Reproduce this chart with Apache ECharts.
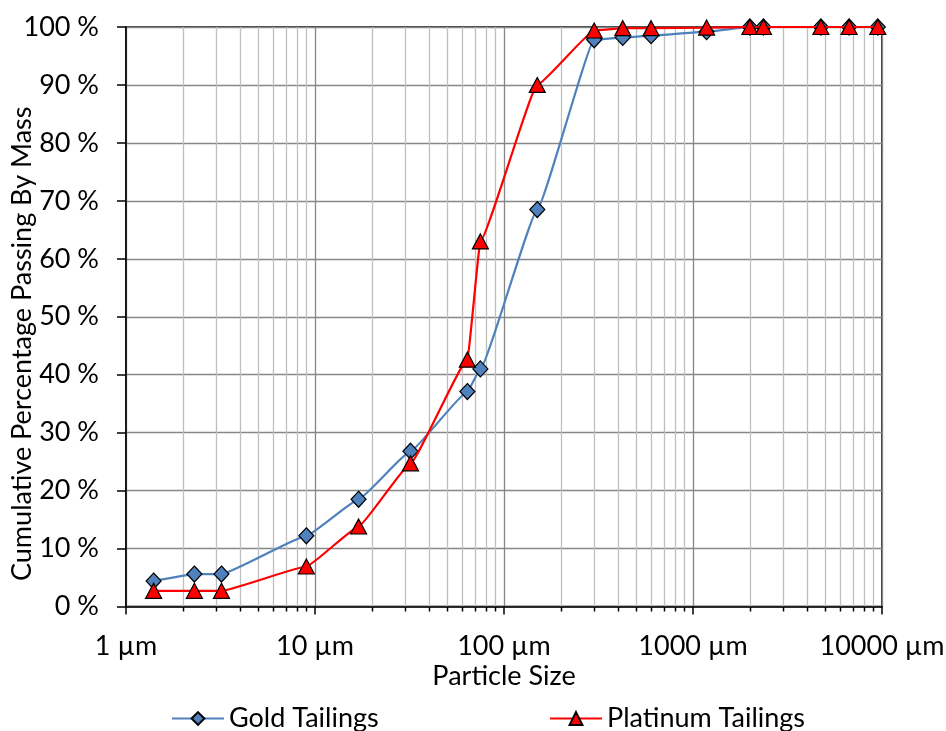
<!DOCTYPE html>
<html>
<head>
<meta charset="utf-8">
<script src="https://cdn.jsdelivr.net/npm/echarts@6/dist/echarts.min.js"></script>
<style>
html,body{margin:0;padding:0;background:#fff;}
#chart{width:946px;height:731px;}
</style>
</head>
<body>
<div id="chart"></div>
<script>
// Particle sizes (µm)
const sizes = [1.4, 2.3, 3.2, 9, 17, 32, 64, 75, 150, 300, 425, 600, 1180, 2000, 2360, 4750, 6700, 9500];
// Cumulative % passing
const goldTailings = [4.4, 5.6, 5.6, 12.2, 18.5, 26.8, 37.1, 41.0, 68.5, 97.8, 98.2, 98.5, 99.2, 100, 100, 100, 100, 100];
const platinumTailings = [2.7, 2.7, 2.7, 6.9, 13.8, 24.7, 42.6, 63.0, 90.0, 99.4, 99.8, 99.8, 99.9, 100, 100, 100, 100, 100];
// Minor log ticks / gridlines
const minorTicks = [2,3,4,5,6,7,8,9,20,30,40,50,60,70,80,90,200,300,400,500,600,700,800,900,2000,3000,4000,5000,6000,7000,8000,9000];
const seriesNames = ['Gold Tailings', 'Platinum Tailings'];

const FONT = 'Lato';
const FS = 27;

const chart = echarts.init(document.getElementById('chart'), null, {renderer: 'canvas'});

const option = {
  animation: false,
  backgroundColor: '#fff',
  grid: {left: 126, right: 64, top: 27, bottom: 124.5, containLabel: false, outerBoundsMode: 'none',
         show: true, borderColor: '#000', borderWidth: 1.5, backgroundColor: 'transparent'},
  legend: [
    {data: [seriesNames[0]], left: 166, top: 700, itemWidth: 52, itemHeight: 16, itemGap: 5,
     textStyle: {fontFamily: FONT, fontSize: FS, color: '#000'}},
    {data: [seriesNames[1]], left: 544, top: 700, itemWidth: 52, itemHeight: 16, itemGap: 5,
     textStyle: {fontFamily: FONT, fontSize: FS, color: '#000'}}
  ],
  xAxis: {
    type: 'log', logBase: 10, min: 1, max: 10000,
    name: 'Particle Size', nameLocation: 'middle', nameGap: 56, nameMoveOverlap: false,
    nameTextStyle: {fontFamily: FONT, fontSize: FS, color: '#000'},
    axisLine: {lineStyle: {color: '#000', width: 1.5}},
    axisTick: {show: true, inside: false, length: 8, lineStyle: {color: '#000', width: 1.5}},
    axisLabel: {fontFamily: FONT, fontSize: FS, color: '#000', margin: 26, formatter: v => v + ' µm'},
    splitLine: {show: true, lineStyle: {color: '#868686', width: 1.3}},
    minorTick: {show: false}, minorSplitLine: {show: false}
  },
  yAxis: {
    type: 'value', min: 0, max: 100, interval: 10,
    name: 'Cumulative Percentage Passing By Mass', nameLocation: 'middle', nameGap: 90, nameMoveOverlap: false,
    nameTextStyle: {fontFamily: FONT, fontSize: FS, color: '#000', padding: [0, 54, 0, 0]},
    axisLine: {show: true, lineStyle: {color: '#000', width: 1.5}},
    axisTick: {show: true, inside: false, length: 9, lineStyle: {color: '#000', width: 1.5}},
    axisLabel: {fontFamily: FONT, fontSize: FS, color: '#000', margin: 27, formatter: '{value} %'},
    splitLine: {show: true, lineStyle: {color: '#868686', width: 1.3}}
  },
  series: [
    {
      type: 'custom', name: 'minor', silent: true, z: 1, clip: false,
      data: minorTicks.map(v => [v, 0]),
      renderItem: function (params, api) {
        const v = api.value(0);
        const p0 = api.coord([v, 0]);
        const p1 = api.coord([v, 100]);
        const x = Math.round(p0[0]) + 0.5;
        return {type: 'group', children: [
          {type: 'line', shape: {x1: x, y1: p1[1], x2: x, y2: p0[1]}, style: {stroke: '#BFBFBF', lineWidth: 1.3}},
          {type: 'line', shape: {x1: x, y1: p0[1], x2: x, y2: p0[1] + 5}, style: {stroke: '#000', lineWidth: 1.5}}
        ]};
      }
    },
    {
      name: seriesNames[0], type: 'line', z: 3, smooth: 0.1, smoothMonotone: 'x',
      data: sizes.map((s, i) => [s, goldTailings[i]]),
      symbol: 'diamond', symbolSize: [15, 16],
      lineStyle: {color: '#4F81BD', width: 2.2},
      itemStyle: {color: '#4F81BD', borderColor: '#000', borderWidth: 1.2}
    },
    {
      name: seriesNames[1], type: 'line', z: 4, smooth: 0.1, smoothMonotone: 'x',
      data: sizes.map((s, i) => [s, platinumTailings[i]]),
      symbol: 'triangle', symbolSize: [16, 15],
      lineStyle: {color: '#FF0000', width: 2.2},
      itemStyle: {color: '#FF0000', borderColor: '#000', borderWidth: 1.2}
    }
  ]
};
chart.setOption(option);
</script>
</body>
</html>
